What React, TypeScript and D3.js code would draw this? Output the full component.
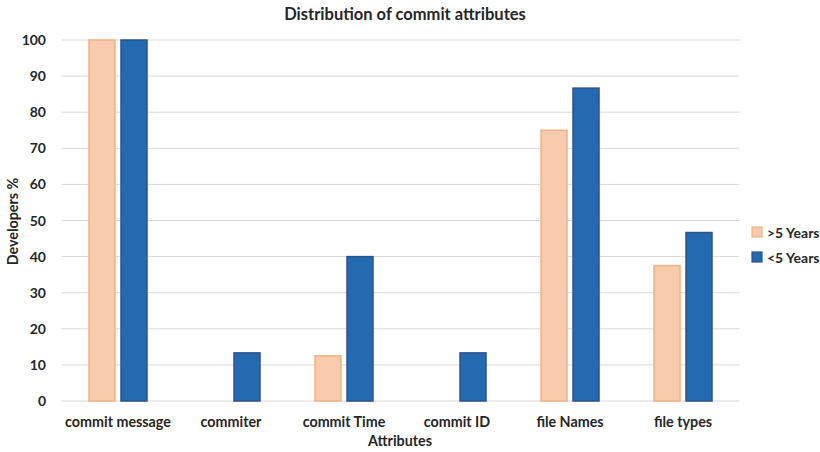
import React from "react";
import * as d3 from "d3";

const categories = ["commit message", "commiter", "commit Time", "commit ID", "file Names", "file types"];
const seriesNames = [">5 Years", "<5 Years"];
const over5 = [100, 0, 12.5, 0, 75, 37.5];
const under5 = [100, 13.33, 40, 13.33, 86.67, 46.67];
const yTicks = [0, 10, 20, 30, 40, 50, 60, 70, 80, 90, 100];

const W = 820, H = 452;
const left = 61.5, right = 739.5, top = 40, bottom = 401;
const FONT = "Lato, 'Open Sans', sans-serif";

export default function App() {
  const x = d3.scaleBand().domain(categories).range([left, right]);
  const y = d3.scaleLinear().domain([0, 100]).range([bottom, top]);
  const bw = 26;
  const fills = ["#F8CBAD", "#236AB0"];
  const strokes = ["#F4B183", "#2F528F"];
  const data = [over5, under5];
  return (
    <svg width={W} height={H} style={{ position: "absolute", left: 0, top: 0, fontFamily: FONT }}>
      <rect width={W} height={H} fill="#fff" />
      <text x={405} y={20} textAnchor="middle" fontSize={16.5} fontWeight="bold" fill="#262626">Distribution of commit attributes</text>
      {yTicks.map((t) => (
        <g key={t}>
          <line x1={left} x2={right} y1={y(t)} y2={y(t)} stroke="#d9d9d9" strokeWidth={1} />
          <text x={46} y={y(t) + 5} textAnchor="end" fontSize={14} fontWeight="bold" fill="#262626">{t}</text>
        </g>
      ))}
      {categories.map((c, i) => {
        const cx = (x(c) as number) + x.bandwidth() / 2;
        return (
          <g key={c}>
            {data.map((s, k) => {
              const x0 = k === 0 ? cx - 3 - bw : cx + 3;
              const v = s[i];
              if (v <= 0) return null;
              return (
                <rect key={k} x={x0} y={y(v)} width={bw} height={y(0) - y(v)} fill={fills[k]} stroke={strokes[k]} strokeWidth={1.5} />
              );
            })}
            <text x={cx} y={427} textAnchor="middle" fontSize={14.3} fontWeight="bold" fill="#262626">{c}</text>
          </g>
        );
      })}
      <text x={400} y={446} textAnchor="middle" fontSize={14.3} fontWeight="bold" fill="#262626">Attributes</text>
      <text transform={`translate(18,${(top + bottom) / 2 + 1}) rotate(-90)`} textAnchor="middle" fontSize={14.3} fontWeight="bold" fill="#262626">Developers %</text>
      {seriesNames.map((n, k) => (
        <g key={n} transform={`translate(752,${227 + k * 25})`}>
          <rect x={0} y={0} width={10} height={10} fill={fills[k]} stroke={strokes[k]} strokeWidth={1.2} />
          <text x={15} y={10.5} fontSize={14} fontWeight="bold" fill="#262626">{n}</text>
        </g>
      ))}
    </svg>
  );
}
